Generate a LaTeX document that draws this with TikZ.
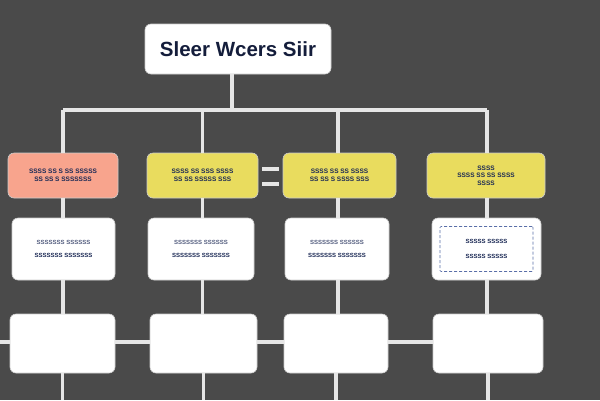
\documentclass[tikz,border=0pt]{standalone}
\usepackage{fontspec}
\setmainfont{Liberation Sans}
\definecolor{bgdark}{HTML}{4A4A4A}
\definecolor{linelight}{HTML}{E6E6E6}
\definecolor{salmon}{HTML}{F8A48D}
\definecolor{mustard}{HTML}{E9DC5E}
\definecolor{inknavy}{HTML}{1C2A55}
\definecolor{dashblue}{HTML}{5A6FA8}
\begin{document}
\begin{tikzpicture}[x=1pt, y=-1pt,
  box/.style={draw=black!20, line width=0.6pt, rounded corners=6pt, inner sep=0pt, align=center, font=\fontsize{6.5}{7.5}\selectfont\bfseries, text=inknavy},
  wire/.style={draw=linelight, line width=3.5pt}]
\fill[bgdark] (0,0) rectangle (600,400);
\useasboundingbox (0,0) rectangle (600,400);
% title
\node[box, fill=white, minimum width=186pt, minimum height=50pt, text=inknavy!70!black, font=\fontsize{20.5}{22}\selectfont\bfseries] (title) at (238,49){Sleer Wcers Siir};
% first row
\node[box, fill=salmon, minimum width=110pt, minimum height=45pt] (r1a) at (63,175.5){SSSS SS S SS SSSSS\\SS SS S SSSSSSS};
\node[box, fill=mustard, minimum width=111pt, minimum height=45pt] (r1b) at (202.5,175.5){SSSS SS SSS SSSS\\SS SS SSSSS SSS};
\node[box, fill=mustard, minimum width=113pt, minimum height=45pt] (r1c) at (339.5,175.5){SSSS SS SS SSSS\\SS SS S SSSS SSS};
\node[box, fill=mustard, minimum width=118pt, minimum height=45pt] (r1d) at (486,175.5){SSSS\\SSSS SS SS SSSS\\SSSS};
% second row
\node[box, fill=white, minimum width=103pt, minimum height=62pt, font=\fontsize{6}{13}\selectfont\bfseries] (r2a) at (63.5,249){\textcolor{inknavy!75}{SSSSSSS SSSSSS}\\SSSSSSS SSSSSSS};
\node[box, fill=white, minimum width=106pt, minimum height=62pt, font=\fontsize{6}{13}\selectfont\bfseries] (r2b) at (201,249){\textcolor{inknavy!75}{SSSSSSS SSSSSS}\\SSSSSSS SSSSSSS};
\node[box, fill=white, minimum width=104pt, minimum height=62pt, font=\fontsize{6}{13}\selectfont\bfseries] (r2c) at (337,249){\textcolor{inknavy!75}{SSSSSSS SSSSSS}\\SSSSSSS SSSSSSS};
\node[box, fill=white, minimum width=109pt, minimum height=62pt, font=\fontsize{6}{15}\selectfont\bfseries] (r2d) at (486.5,249){SSSSS SSSSS\\SSSSS SSSSS};
\node[draw=dashblue, densely dashed, line width=0.6pt, rounded corners=1pt, minimum width=93pt, minimum height=45pt] (r2din) at (486.5,249){};
% third row
\node[box, fill=white, minimum width=105pt, minimum height=59pt] (r3a) at (62.5,343.5){};
\node[box, fill=white, minimum width=107pt, minimum height=59pt] (r3b) at (203.5,343.5){};
\node[box, fill=white, minimum width=104pt, minimum height=59pt] (r3c) at (336,343.5){};
\node[box, fill=white, minimum width=110pt, minimum height=59pt] (r3d) at (488,343.5){};
% connectors
\coordinate (bus) at (232,110);
\coordinate (busa) at (63,110);
\coordinate (busb) at (202.5,110);
\coordinate (busc) at (338,110);
\coordinate (busd) at (487,110);
\draw[wire](bus |- title.south) -- (bus);
\draw[wire](busa) -- (busd);
\draw[wire](busa) -- (busa |- r1a.north);
\draw[wire](busb) -- (busb |- r1b.north);
\draw[wire](busc) -- (busc |- r1c.north);
\draw[wire](busd) -- (busd |- r1d.north);
\draw[wire](busa |- r1a.south) -- (busa |- r2a.north);
\draw[wire](busb |- r1b.south) -- (busb |- r2b.north);
\draw[wire](busc |- r1c.south) -- (busc |- r2c.north);
\draw[wire](busd |- r1d.south) -- (busd |- r2d.north);
\draw[wire](busa |- r2a.south) -- (busa |- r3a.north);
\draw[wire](busb |- r2b.south) -- (busb |- r3b.north);
\draw[wire](busc |- r2c.south) -- (busc |- r3c.north);
\draw[wire](busd |- r2d.south) -- (busd |- r3d.north);
\coordinate (lft) at (0,342);
\draw[wire](lft) -- (r3a.west |- lft);
\draw[wire](r3a.east |- lft) -- (r3b.west |- lft);
\draw[wire](r3b.east |- lft) -- (r3c.west |- lft);
\draw[wire](r3c.east |- lft) -- (r3d.west |- lft);
\coordinate (enda) at (62.5,400);
\coordinate (endb) at (203.5,400);
\coordinate (endc) at (336,400);
\coordinate (endd) at (488,400);
\draw[wire](r3a) -- (enda);
\draw[wire](r3b) -- (endb);
\draw[wire](r3c) -- (endc);
\draw[wire](r3d) -- (endd);
% equals mark
\coordinate (eqa) at (262,169);
\coordinate (eqb) at (279,169);
\coordinate (eqc) at (262,184);
\coordinate (eqd) at (279,184);
\draw[wire](eqa) -- (eqb);
\draw[wire](eqc) -- (eqd);
\end{tikzpicture}
\end{document}
